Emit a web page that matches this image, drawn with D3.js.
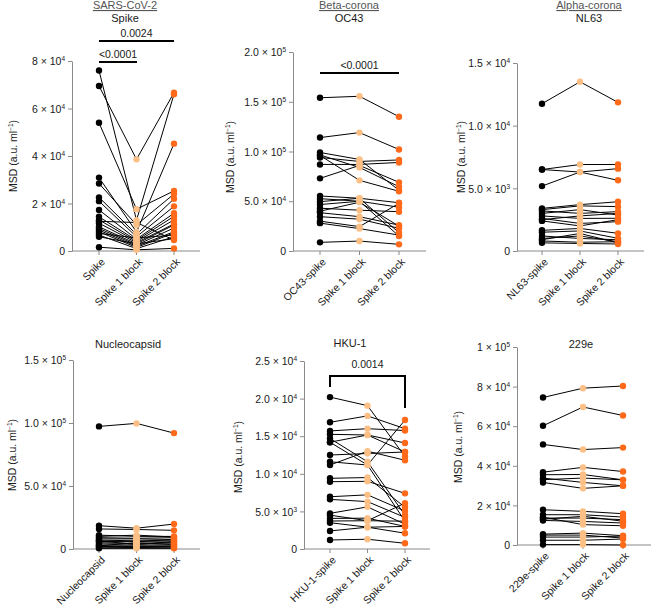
<!DOCTYPE html>
<html><head><meta charset="utf-8">
<script src="https://cdn.jsdelivr.net/npm/d3@7"></script>
<style>
body{margin:0;background:#fff;}
svg{font-family:"Liberation Sans",Arial,Helvetica,sans-serif;}
</style></head>
<body>
<svg id="c" width="651" height="610"></svg>
<script>
// ---------------- DATA ----------------
// each row: one donor, values for [Spike, Spike 1 block, Spike 2 block]
const sarsCats = ["Spike", "Spike 1 block", "Spike 2 block"];
const sarsValues = [
  [7.6e4, 1.3e4, 6.6e4], [6.95e4, 3.86e4, 6.67e4], [5.4e4, 1.76e4, 2.53e4],
  [3.09e4, 0.8e4, 4.52e4], [2.84e4, 1.1e4, 2.4e4], [2.26e4, 0.7e4, 2.2e4],
  [2.1e4, 0.6e4, 1.88e4], [1.73e4, 0.5e4, 1.59e4], [1.44e4, 0.45e4, 1.46e4],
  [1.31e4, 0.4e4, 1.31e4], [1.17e4, 0.35e4, 1.14e4], [1.02e4, 0.3e4, 1.1e4],
  [0.95e4, 0.25e4, 0.97e4], [0.88e4, 0.2e4, 0.81e4], [0.81e4, 0.15e4, 0.76e4],
  [0.74e4, 0.55e4, 0.67e4], [0.67e4, 0.1e4, 0.6e4], [0.6e4, 0.3e4, 0.52e4],
  [0.16e4, 0.05e4, 0.11e4], [1.25e4, 1.2e4, 0.46e4]
];
const sarsTicks = [0, 2e4, 4e4, 6e4, 8e4];
const sarsTickLabels = ["0", "2 × 10^4", "4 × 10^4", "6 × 10^4", "8 × 10^4"];

const oc43Cats = ["OC43-spike", "Spike 1 block", "Spike 2 block"];
const oc43Values = [
  [1.54e5, 1.555e5, 1.35e5], [1.14e5, 1.19e5, 1.02e5], [0.99e5, 0.92e5, 0.61e5],
  [0.965e5, 0.84e5, 0.646e5], [0.94e5, 0.90e5, 0.915e5], [0.87e5, 0.87e5, 0.89e5],
  [0.73e5, 0.86e5, 0.69e5], [0.96e5, 0.71e5, 0.60e5], [0.553e5, 0.53e5, 0.485e5],
  [0.526e5, 0.50e5, 0.44e5], [0.496e5, 0.53e5, 0.184e5], [0.467e5, 0.50e5, 0.15e5],
  [0.43e5, 0.41e5, 0.395e5], [0.385e5, 0.345e5, 0.26e5], [0.345e5, 0.32e5, 0.228e5],
  [0.30e5, 0.245e5, 0.48e5], [0.28e5, 0.225e5, 0.16e5], [0.087e5, 0.10e5, 0.067e5],
  [0.40e5, 0.49e5, 0.25e5]
];
const oc43Ticks = [0, 5e4, 1e5, 1.5e5, 2e5];
const oc43TickLabels = ["0", "5.0 × 10^4", "1.0 × 10^5", "1.5 × 10^5", "2.0 × 10^5"];

const nl63Cats = ["NL63-spike", "Spike 1 block", "Spike 2 block"];
const nl63Values = [
  [1.175e4, 1.35e4, 1.186e4], [0.65e4, 0.69e4, 0.69e4], [0.65e4, 0.63e4, 0.657e4],
  [0.518e4, 0.63e4, 0.564e4], [0.34e4, 0.37e4, 0.393e4], [0.33e4, 0.36e4, 0.354e4],
  [0.32e4, 0.30e4, 0.314e4], [0.30e4, 0.33e4, 0.287e4], [0.28e4, 0.26e4, 0.261e4],
  [0.26e4, 0.22e4, 0.234e4], [0.25e4, 0.28e4, 0.30e4], [0.24e4, 0.20e4, 0.25e4],
  [0.165e4, 0.18e4, 0.141e4], [0.15e4, 0.16e4, 0.101e4], [0.12e4, 0.10e4, 0.09e4],
  [0.10e4, 0.12e4, 0.074e4], [0.08e4, 0.07e4, 0.074e4], [0.065e4, 0.06e4, 0.056e4],
  [0.09e4, 0.14e4, 0.065e4]
];
const nl63Ticks = [0, 5e3, 1e4, 1.5e4];
const nl63TickLabels = ["0", "5.0 × 10^3", "1.0 × 10^4", "1.5 × 10^4"];

const ncCats = ["Nucleocapsid", "Spike 1 block", "Spike 2 block"];
const ncValues = [
  [0.973e5, 0.997e5, 0.92e5], [0.185e5, 0.165e5, 0.198e5], [0.159e5, 0.155e5, 0.148e5],
  [0.11e5, 0.10e5, 0.10e5], [0.10e5, 0.11e5, 0.095e5], [0.09e5, 0.085e5, 0.09e5],
  [0.08e5, 0.08e5, 0.075e5], [0.07e5, 0.065e5, 0.07e5], [0.06e5, 0.06e5, 0.055e5],
  [0.05e5, 0.045e5, 0.05e5], [0.04e5, 0.04e5, 0.04e5], [0.03e5, 0.03e5, 0.03e5],
  [0.02e5, 0.02e5, 0.02e5], [0.01e5, 0.012e5, 0.01e5], [0.005e5, 0.005e5, 0.005e5],
  [0.025e5, 0.05e5, 0.035e5], [0.065e5, 0.035e5, 0.06e5]
];
const ncTicks = [0, 5e4, 1e5, 1.5e5];
const ncTickLabels = ["0", "5.0 × 10^4", "1.0 × 10^5", "1.5 × 10^5"];

const hku1Cats = ["HKU-1-spike", "Spike 1 block", "Spike 2 block"];
const hku1Values = [
  [2.02e4, 1.906e4, 1.23e4], [1.685e4, 1.77e4, 1.6e4], [1.57e4, 1.6e4, 1.575e4],
  [1.525e4, 1.516e4, 1.29e4], [1.47e4, 1.16e4, 0.45e4], [1.42e4, 1.117e4, 0.37e4],
  [1.25e4, 1.27e4, 1.29e4], [1.16e4, 1.117e4, 1.715e4], [1.117e4, 1.30e4, 1.18e4],
  [0.94e4, 0.95e4, 0.555e4], [0.895e4, 0.9e4, 0.74e4], [0.695e4, 0.72e4, 0.505e4],
  [0.66e4, 0.63e4, 0.42e4], [0.474e4, 0.56e4, 0.33e4], [0.407e4, 0.41e4, 0.30e4],
  [0.372e4, 0.376e4, 0.37e4], [0.35e4, 0.29e4, 0.30e4], [0.24e4, 0.29e4, 0.21e4],
  [0.12e4, 0.13e4, 0.076e4], [1.42e4, 1.516e4, 1.41e4], [0.45e4, 0.376e4, 0.61e4]
];
const hku1Ticks = [0, 5e3, 1e4, 1.5e4, 2e4, 2.5e4];
const hku1TickLabels = ["0", "5.0 × 10^3", "1.0 × 10^4", "1.5 × 10^4", "2.0 × 10^4", "2.5 × 10^4"];

const e229Cats = ["229e-spike", "Spike 1 block", "Spike 2 block"];
const e229Values = [
  [7.45e4, 7.92e4, 8.03e4], [6.02e4, 6.97e4, 6.54e4], [5.08e4, 4.82e4, 4.92e4],
  [3.68e4, 3.92e4, 3.71e4], [3.55e4, 3.56e4, 3.29e4], [3.38e4, 3.16e4, 2.99e4],
  [3.16e4, 2.86e4, 2.99e4], [3.3e4, 3.38e4, 3.29e4], [1.78e4, 1.7e4, 1.58e4],
  [1.53e4, 1.53e4, 1.41e4], [1.36e4, 1.36e4, 1.28e4], [1.24e4, 1.19e4, 1.11e4],
  [1.4e4, 1.03e4, 0.97e4], [1.3e4, 1.45e4, 1.2e4], [0.55e4, 0.6e4, 0.47e4],
  [0.4e4, 0.4e4, 0.45e4], [0.24e4, 0.24e4, 0.3e4], [0.02e4, 0.02e4, 0.0],
  [0.5e4, 0.5e4, 0.35e4]
];
const e229Ticks = [0, 2e4, 4e4, 6e4, 8e4, 1e5];
const e229TickLabels = ["0", "2 × 10^4", "4 × 10^4", "6 × 10^4", "8 × 10^4", "1 × 10^5"];

const seriesColors = ["#000000", "#fcc086", "#ff6a1a"];

// ---------------- LAYOUT ----------------
const panels = [
  {cats: sarsCats, values: sarsValues, ticks: sarsTicks, labels: sarsTickLabels,
   ax: 72, y0: 251, y1: 61, dmax: 8e4, cx0: 99, cx1: 174, xr: 200,
   titles: [{t: "SARS-CoV-2", x: 125, y: 9, u: true}, {t: "Spike", x: 125, y: 22}],
   ylab: {x: 17, y: 156},
   sig: [{t: "0.0024", x1: 99, x2: 174, y: 41, ty: 37, type: "bar"},
         {t: "<0.0001", x1: 99, x2: 137, y: 62, ty: 58, type: "bar"}]},
  {cats: oc43Cats, values: oc43Values, ticks: oc43Ticks, labels: oc43TickLabels,
   ax: 293, y0: 251, y1: 52, dmax: 2e5, cx0: 320, cx1: 399, xr: 426,
   titles: [{t: "Beta-corona", x: 349, y: 9, u: true}, {t: "OC43", x: 349, y: 22}],
   ylab: {x: 234, y: 157},
   sig: [{t: "<0.0001", x1: 320, x2: 399, y: 73, ty: 69, type: "bar"}]},
  {cats: nl63Cats, values: nl63Values, ticks: nl63Ticks, labels: nl63TickLabels,
   ax: 517, y0: 251, y1: 63, dmax: 1.5e4, cx0: 542, cx1: 618, xr: 644,
   titles: [{t: "Alpha-corona", x: 589, y: 9, u: true}, {t: "NL63", x: 589, y: 22}],
   ylab: {x: 465, y: 157}, sig: []},
  {cats: ncCats, values: ncValues, ticks: ncTicks, labels: ncTickLabels,
   ax: 73, y0: 549, y1: 360, dmax: 1.5e5, cx0: 99, cx1: 174, xr: 200,
   titles: [{t: "Nucleocapsid", x: 128, y: 348}],
   ylab: {x: 16, y: 455}, sig: []},
  {cats: hku1Cats, values: hku1Values, ticks: hku1Ticks, labels: hku1TickLabels,
   ax: 304, y0: 549, y1: 361, dmax: 2.5e4, cx0: 330, cx1: 405, xr: 430,
   titles: [{t: "HKU-1", x: 350, y: 347}],
   ylab: {x: 242, y: 457},
   sig: [{t: "0.0014", x1: 330, x2: 405, y: 376, ty: 368, type: "bracket", l1: 387, l2: 408}]},
  {cats: e229Cats, values: e229Values, ticks: e229Ticks, labels: e229TickLabels,
   ax: 517, y0: 545, y1: 347, dmax: 1e5, cx0: 543, cx1: 623, xr: 651,
   titles: [{t: "229e", x: 581, y: 348}],
   ylab: {x: 462, y: 447}, sig: []}
];

const svg = d3.select("#c");
const axisColor = "#8a8a8a";
const textColor = "#1a1a1a";

function sciLabel(sel, label) {
  const parts = label.split("^");
  sel.text(null);
  sel.append("tspan").text(parts[0]);
  if (parts[1] !== undefined) {
    sel.append("tspan").attr("dy", -4).attr("font-size", 6.5).text(parts[1]);
  }
}

panels.forEach(p => {
  const g = svg.append("g");
  const y = d3.scaleLinear().domain([0, p.dmax]).range([p.y0, p.y1]);
  const x = d3.scalePoint().domain(p.cats).range([p.cx0, p.cx1]);

  // y axis
  const ya = g.append("g").attr("transform", `translate(${p.ax},0)`)
    .call(d3.axisLeft(y).tickValues(p.ticks).tickSize(4).tickSizeOuter(0).tickFormat(""));
  ya.select(".domain").attr("stroke", axisColor);
  ya.selectAll(".tick line").attr("stroke", axisColor);
  ya.selectAll(".tick").each(function(d, i) {
    const t = d3.select(this).append("text")
      .attr("x", -7).attr("y", 0).attr("dy", "0.35em")
      .attr("text-anchor", "end").attr("fill", textColor)
      .attr("font-size", 10.5);
    sciLabel(t, p.labels[i]);
  });

  // x axis
  const xa = g.append("g").attr("transform", `translate(0,${p.y0})`);
  xa.append("line").attr("x1", p.ax).attr("x2", p.xr).attr("y1", 0).attr("y2", 0)
    .attr("stroke", axisColor);
  xa.selectAll("line.tk").data(p.cats).join("line").attr("class", "tk")
    .attr("x1", d => x(d)).attr("x2", d => x(d)).attr("y1", 0).attr("y2", 4)
    .attr("stroke", axisColor);
  xa.selectAll("text").data(p.cats).join("text")
    .attr("transform", d => `translate(${x(d) + 4},${9}) rotate(-45)`)
    .attr("text-anchor", "end").attr("dy", "0.35em")
    .attr("font-size", 10.5).attr("fill", textColor)
    .text(d => d);

  // lines
  const line = d3.line().x((v, i) => x(p.cats[i])).y(v => y(v));
  g.append("g").selectAll("path").data(p.values).join("path")
    .attr("d", d => line(d)).attr("fill", "none")
    .attr("stroke", "#000").attr("stroke-width", 1);

  // points
  p.cats.forEach((c, ci) => {
    g.append("g").selectAll("circle").data(p.values).join("circle")
      .attr("cx", x(c)).attr("cy", d => y(d[ci])).attr("r", 3.2)
      .attr("fill", seriesColors[ci]);
  });

  // titles
  p.titles.forEach(t => {
    g.append("text").attr("x", t.x).attr("y", t.y).attr("text-anchor", "middle")
      .attr("font-size", 11).attr("fill", t.u ? "#555" : textColor)
      .attr("text-decoration", t.u ? "underline" : null)
      .text(t.t);
  });

  // y label
  const yl = g.append("text")
    .attr("transform", `translate(${p.ylab.x},${p.ylab.y}) rotate(-90)`)
    .attr("text-anchor", "middle").attr("font-size", 10.5).attr("fill", textColor);
  yl.append("tspan").text("MSD (a.u. ml");
  yl.append("tspan").attr("dy", -4).attr("font-size", 6.5).text("−1");
  yl.append("tspan").attr("dy", 4).text(")");

  // significance
  p.sig.forEach(s => {
    if (s.type === "bar") {
      g.append("line").attr("x1", s.x1).attr("x2", s.x2).attr("y1", s.y).attr("y2", s.y)
        .attr("stroke", "#000").attr("stroke-width", 2);
    } else {
      g.append("path").attr("d", `M${s.x1},${s.l1}V${s.y}H${s.x2}V${s.l2}`)
        .attr("fill", "none").attr("stroke", "#000").attr("stroke-width", 2);
    }
    g.append("text").attr("x", (s.x1 + s.x2) / 2).attr("y", s.ty)
      .attr("text-anchor", "middle").attr("font-size", 10.5).attr("fill", textColor)
      .text(s.t);
  });
});
</script>
</body></html>
